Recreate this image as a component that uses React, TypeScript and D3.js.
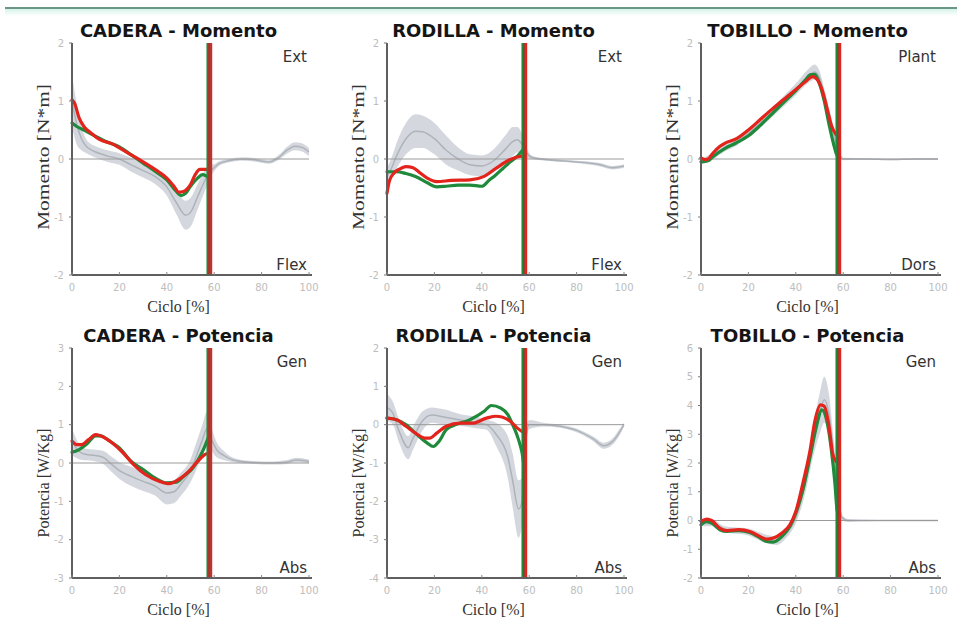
import React from 'react';
import * as d3 from 'd3';

// [ciclo %, valor]  /  [ciclo %, media, desviación]
type Pt = [number, number];
type NormPt = [number, number, number];

const PCT_TICKS = [0, 20, 40, 60, 80, 100];
const TOE_OFF = 58;

// ---- CADERA - Momento
const hipMomentNorm: NormPt[] = [
  [0, 1.0, 0.45], [2, 0.6, 0.35], [4, 0.35, 0.2], [6, 0.22, 0.12], [8, 0.16, 0.1], [10, 0.12, 0.1],
  [15, 0.05, 0.1], [20, 0.0, 0.1], [25, -0.1, 0.12], [30, -0.2, 0.12], [35, -0.3, 0.13], [40, -0.48, 0.15],
  [44, -0.75, 0.2], [48, -0.97, 0.25], [50, -0.92, 0.25], [53, -0.65, 0.22], [56, -0.38, 0.18],
  [58, -0.22, 0.12], [60, -0.15, 0.06], [62, -0.08, 0.04], [66, -0.03, 0.03], [72, 0.0, 0.03],
  [78, -0.02, 0.03], [83, -0.05, 0.03], [87, 0.02, 0.04], [91, 0.16, 0.06], [94, 0.22, 0.07],
  [97, 0.2, 0.07], [100, 0.12, 0.07],
];
const hipMomentGreen: Pt[] = [
  [0, 0.62], [2, 0.56], [5, 0.5], [10, 0.39], [15, 0.29], [20, 0.21], [25, 0.07], [30, -0.07],
  [35, -0.21], [40, -0.36], [44, -0.56], [46, -0.63], [48, -0.59], [50, -0.47], [53, -0.33],
  [55, -0.27], [57, -0.3], [58, -0.32],
];
const hipMomentRed: Pt[] = [
  [0, 1.02], [1, 0.97], [3, 0.71], [5, 0.56], [8, 0.45], [12, 0.33], [17, 0.26], [20, 0.19],
  [25, 0.07], [30, -0.05], [35, -0.18], [40, -0.33], [43, -0.47], [45, -0.57], [47, -0.56],
  [50, -0.44], [52, -0.27], [54, -0.18], [57, -0.18], [58, -0.2],
];

// ---- RODILLA - Momento
const kneeMomentNorm: NormPt[] = [
  [0, -0.3, 0.15], [2, -0.15, 0.18], [4, 0.05, 0.22], [8, 0.35, 0.27], [12, 0.48, 0.29], [15, 0.47, 0.28],
  [20, 0.35, 0.27], [25, 0.15, 0.25], [30, 0.0, 0.2], [35, -0.1, 0.18], [40, -0.12, 0.18], [45, -0.03, 0.2],
  [50, 0.17, 0.24], [53, 0.3, 0.25], [55, 0.33, 0.22], [57, 0.25, 0.18], [59, 0.1, 0.08], [61, 0.03, 0.03],
  [65, 0.0, 0.02], [70, -0.02, 0.02], [80, -0.05, 0.02], [90, -0.1, 0.03], [95, -0.15, 0.03], [100, -0.12, 0.03],
];
const kneeMomentGreen: Pt[] = [
  [0, -0.22], [4, -0.22], [8, -0.25], [12, -0.3], [17, -0.41], [21, -0.48], [25, -0.47], [30, -0.45],
  [35, -0.45], [40, -0.47], [43, -0.37], [46, -0.27], [49, -0.16], [52, -0.05], [55, 0.05], [58, 0.19],
];
const kneeMomentRed: Pt[] = [
  [0, -0.59], [1, -0.38], [3, -0.24], [5, -0.18], [8, -0.13], [11, -0.15], [14, -0.24], [17, -0.33],
  [21, -0.39], [27, -0.37], [35, -0.36], [41, -0.3], [46, -0.16], [52, -0.01], [57, 0.05], [58, 0.05],
];

// ---- TOBILLO - Momento
const ankleMomentNorm: NormPt[] = [
  [0, -0.05, 0.05], [5, 0.05, 0.06], [10, 0.2, 0.07], [15, 0.3, 0.07], [20, 0.44, 0.07], [25, 0.62, 0.08],
  [30, 0.8, 0.08], [35, 1.0, 0.09], [40, 1.2, 0.1], [45, 1.42, 0.12], [48, 1.5, 0.13], [50, 1.4, 0.12],
  [52, 1.12, 0.1], [55, 0.62, 0.1], [58, 0.12, 0.06], [60, 0.0, 0.02], [70, 0.0, 0.01], [80, -0.01, 0.01],
  [90, 0.0, 0.01], [100, 0.0, 0.01],
];
const ankleMomentGreen: Pt[] = [
  [0, -0.05], [3, -0.03], [5, 0.04], [10, 0.18], [15, 0.28], [20, 0.4], [25, 0.58], [30, 0.78],
  [35, 0.98], [40, 1.18], [44, 1.36], [46, 1.45], [48, 1.46], [50, 1.3], [52, 1.0], [54, 0.6],
  [56, 0.25], [57, 0.1], [58, 0.02],
];
const ankleMomentRed: Pt[] = [
  [0, 0.02], [2, -0.01], [3, 0.0], [5, 0.1], [8, 0.22], [10, 0.27], [15, 0.35], [20, 0.5], [25, 0.68],
  [30, 0.86], [35, 1.03], [40, 1.2], [44, 1.33], [46, 1.4], [47, 1.42], [49, 1.37], [51, 1.2],
  [53, 0.9], [55, 0.58], [57, 0.42], [58, 0.38],
];

// ---- CADERA - Potencia
const hipPowerNorm: NormPt[] = [
  [0, 0.55, 0.35], [3, 0.3, 0.2], [6, 0.22, 0.15], [9, 0.2, 0.15], [13, 0.15, 0.17], [17, -0.05, 0.2],
  [20, -0.2, 0.22], [25, -0.35, 0.25], [30, -0.48, 0.25], [35, -0.6, 0.25], [40, -0.78, 0.3],
  [43, -0.75, 0.3], [46, -0.55, 0.3], [50, -0.2, 0.3], [52, 0.1, 0.35], [55, 0.6, 0.4], [57, 0.9, 0.45],
  [59, 0.6, 0.3], [61, 0.35, 0.2], [64, 0.2, 0.12], [68, 0.08, 0.06], [75, 0.02, 0.04], [85, 0.0, 0.04],
  [90, 0.02, 0.05], [95, 0.08, 0.06], [100, 0.04, 0.05],
];
const hipPowerGreen: Pt[] = [
  [0, 0.28], [3, 0.35], [6, 0.48], [10, 0.71], [12, 0.71], [16, 0.57], [20, 0.39], [25, 0.04],
  [30, -0.17], [35, -0.39], [40, -0.52], [44, -0.5], [47, -0.35], [51, -0.13], [54, 0.17],
  [56, 0.43], [58, 0.74],
];
const hipPowerRed: Pt[] = [
  [0, 0.57], [2, 0.48], [4, 0.48], [7, 0.61], [10, 0.74], [12, 0.71], [17, 0.52], [21, 0.3],
  [26, -0.04], [31, -0.3], [37, -0.48], [41, -0.54], [45, -0.43], [50, -0.17], [53, 0.04],
  [56, 0.22], [58, 0.26],
];

// ---- RODILLA - Potencia
const kneePowerNorm: NormPt[] = [
  [0, 0.45, 0.35], [2.5, 0.3, 0.3], [5, -0.15, 0.3], [9, -0.6, 0.3], [11, -0.35, 0.3], [15, 0.1, 0.25],
  [19, 0.25, 0.2], [24, 0.2, 0.2], [31, 0.12, 0.15], [38, 0.05, 0.15], [42, 0.0, 0.13], [46, -0.25, 0.3],
  [51, -0.85, 0.55], [53, -1.45, 0.7], [55.5, -2.2, 0.75], [57, -2.0, 0.6], [58.3, -0.5, 0.35],
  [60, 0.0, 0.12], [66, 0.0, 0.05], [73, -0.04, 0.04], [80, -0.15, 0.05], [87, -0.37, 0.06],
  [91.5, -0.55, 0.08], [95, -0.45, 0.08], [98.6, -0.15, 0.08], [100, 0.0, 0.05],
];
const kneePowerGreen: Pt[] = [
  [0, 0.17], [4, 0.13], [8, 0.0], [12, -0.22], [17, -0.48], [19.5, -0.57], [22, -0.43], [25, -0.13],
  [29, 0.0], [35, 0.13], [41, 0.35], [44, 0.5], [48, 0.43], [51, 0.26], [53, 0.0], [55.5, -0.39],
  [57, -0.74], [58, -1.17],
];
const kneePowerRed: Pt[] = [
  [0, 0.17], [4, 0.13], [8, -0.04], [12, -0.22], [16, -0.35], [18, -0.35], [21, -0.22], [25, -0.04],
  [31, 0.04], [36, 0.04], [42, 0.17], [46, 0.22], [48.5, 0.2], [52, 0.09], [55, -0.09], [58, -0.22],
];

// ---- TOBILLO - Potencia
const anklePowerNorm: NormPt[] = [
  [0, -0.1, 0.1], [5, -0.1, 0.1], [10, -0.3, 0.1], [20, -0.4, 0.12], [28, -0.65, 0.15], [32, -0.7, 0.15],
  [36, -0.45, 0.15], [40, 0.1, 0.2], [44, 1.3, 0.35], [47, 2.6, 0.5], [50, 3.7, 0.7], [52, 4.2, 0.8],
  [54, 3.7, 0.7], [56, 2.3, 0.5], [58, 0.7, 0.3], [59.5, 0.1, 0.1], [62, 0.0, 0.05], [70, 0.0, 0.03],
  [80, 0.0, 0.02], [100, 0.0, 0.02],
];
const anklePowerGreen: Pt[] = [
  [0, -0.15], [2.4, -0.03], [4.5, -0.09], [8, -0.32], [11, -0.38], [16, -0.35], [20.6, -0.42],
  [25, -0.61], [27.7, -0.73], [30.5, -0.75], [34, -0.56], [37.5, -0.21], [40, 0.26], [43, 1.07],
  [46, 2.2], [48.7, 3.27], [51, 3.85], [53, 3.5], [55, 2.46], [56.5, 1.3], [57.4, 0.37], [58, 0.2],
];
const anklePowerRed: Pt[] = [
  [0, -0.03], [2.4, 0.05], [4.5, 0.0], [8, -0.27], [11, -0.35], [16, -0.32], [20.6, -0.38],
  [25, -0.56], [27.7, -0.65], [30.5, -0.61], [34, -0.44], [37.5, -0.15], [40, 0.31], [43, 1.3],
  [46, 2.43], [48, 3.44], [50.5, 4.02], [52, 3.97], [54, 3.27], [55.5, 2.34], [57, 2.05], [58, 1.99],
];

const TITLES = [
  'CADERA - Momento', 'RODILLA - Momento', 'TOBILLO - Momento',
  'CADERA - Potencia', 'RODILLA - Potencia', 'TOBILLO - Potencia',
];
const Y_LABELS = ['Momento [N*m]', 'Potencia [W/Kg]'];
const TOP_TAGS = ['Ext', 'Ext', 'Plant', 'Gen', 'Gen', 'Gen'];
const BOTTOM_TAGS = ['Flex', 'Flex', 'Dors', 'Abs', 'Abs', 'Abs'];
const Y_DOMAINS: [number, number][] = [[-2, 2], [-2, 2], [-2, 2], [-3, 3], [-4, 2], [-2, 6]];
const NORMS = [hipMomentNorm, kneeMomentNorm, ankleMomentNorm, hipPowerNorm, kneePowerNorm, anklePowerNorm];
const GREENS = [hipMomentGreen, kneeMomentGreen, ankleMomentGreen, hipPowerGreen, kneePowerGreen, anklePowerGreen];
const REDS = [hipMomentRed, kneeMomentRed, ankleMomentRed, hipPowerRed, kneePowerRed, anklePowerRed];

const COL_X = [72, 387, 701];
const ROW_Y = [43, 348];
const ROW_H = [232, 230];
const ROW_LABEL_CY = [157, 483];
const PLOT_W = 237;

const GREEN = '#1f8a3b';
const RED = '#e3241d';

interface PanelProps {
  idx: number,
}

const Panel: React.FC<PanelProps> = ({idx}: PanelProps) => {
  const row = Math.floor(idx / 3);
  const x0 = COL_X[idx % 3];
  const y0 = ROW_Y[row];
  const h = ROW_H[row];
  const x = d3.scaleLinear().domain([0, 100]).range([x0, x0 + PLOT_W]);
  const y = d3.scaleLinear().domain(Y_DOMAINS[idx]).range([y0 + h, y0]);
  const yTicks = d3.range(Y_DOMAINS[idx][0], Y_DOMAINS[idx][1] + 1);

  const band = d3.area<NormPt>()
      .x(d => x(d[0]))
      .y0(d => y(d[1] - d[2]))
      .y1(d => y(d[1] + d[2]))
      .curve(d3.curveMonotoneX);
  const mean = d3.line<NormPt>().x(d => x(d[0])).y(d => y(d[1])).curve(d3.curveMonotoneX);
  const curve = d3.line<Pt>().x(d => x(d[0])).y(d => y(d[1])).curve(d3.curveMonotoneX);
  const xm = x(TOE_OFF);
  const cx = x0 + PLOT_W / 2 - 12;
  const momento = row === 0;

  return (
      <g>
        <text x={cx} y={y0 - 6} textAnchor="middle" fontFamily="DejaVu Sans" fontWeight="bold"
              fontSize={18} fill="#151515">{TITLES[idx]}</text>

        {/* norma */}
        <path d={band(NORMS[idx]) || ''} fill="#cdd1d8" opacity={0.85}/>
        <path d={mean(NORMS[idx]) || ''} fill="none" stroke="#aeb3ba" strokeWidth={1.5}/>
        <line x1={x(0)} x2={x(100)} y1={y(0)} y2={y(0)} stroke="#9a9a9a" strokeWidth={1}/>

        {/* sujeto */}
        <path d={curve(GREENS[idx]) || ''} fill="none" stroke={GREEN} strokeWidth={3.2}
              strokeLinejoin="round" strokeLinecap="round"/>
        <path d={curve(REDS[idx]) || ''} fill="none" stroke={RED} strokeWidth={3.2}
              strokeLinejoin="round" strokeLinecap="round"/>

        {/* despegue */}
        <line x1={xm - 2} x2={xm - 2} y1={y0} y2={y0 + h} stroke={GREEN} strokeWidth={2}/>
        <line x1={xm} x2={xm} y1={y0} y2={y0 + h} stroke="#a4392b" strokeWidth={3}/>
        <line x1={xm + 2} x2={xm + 2} y1={y0} y2={y0 + h} stroke={RED} strokeWidth={1.5}/>

        {/* ejes */}
        <line x1={x0} x2={x0} y1={y0} y2={y0 + h} stroke="#5f5f5f" strokeWidth={2}/>
        <line x1={x0} x2={x0 + PLOT_W + 3} y1={y0 + h} y2={y0 + h} stroke="#5f5f5f" strokeWidth={2}/>
        {yTicks.map(t => (
            <g key={`y${t}`}>
              <line x1={x0 - 3} x2={x0} y1={y(t)} y2={y(t)} stroke="#777" strokeWidth={1}/>
              <text x={x0 - 8} y={y(t)} dy="0.35em" textAnchor="end" fontFamily="DejaVu Sans"
                    fontSize={10} fill="#bdbdbd">{t}</text>
            </g>
        ))}
        {PCT_TICKS.map(t => (
            <g key={`x${t}`}>
              <line x1={x(t)} x2={x(t)} y1={y0 + h} y2={y0 + h - 3} stroke="#888" strokeWidth={1}/>
              <text x={x(t)} y={y0 + h + 16} textAnchor="middle" fontFamily="DejaVu Sans"
                    fontSize={10} fill="#bdbdbd">{t}</text>
            </g>
        ))}

        <text x={x0 + PLOT_W - 2} y={y0 + 19} textAnchor="end" fontFamily="DejaVu Sans"
              fontSize={15} fill="#333">{TOP_TAGS[idx]}</text>
        <text x={x0 + PLOT_W - 2} y={y0 + h - 5} textAnchor="end" fontFamily="DejaVu Sans"
              fontSize={15} fill="#333">{BOTTOM_TAGS[idx]}</text>

        <text x={cx} y={y0 + h + 37} textAnchor="middle" fontFamily="Liberation Serif"
              fontSize={16} fill="#333">Ciclo [%]</text>
        <text transform={`translate(${x0 - 23}, ${ROW_LABEL_CY[row]}) rotate(-90)`} textAnchor="middle"
              fontFamily="Liberation Serif" fontSize={16} fill="#333"
              textLength={momento ? 146 : undefined}
              lengthAdjust={momento ? 'spacingAndGlyphs' : undefined}>{Y_LABELS[row]}</text>
      </g>
  );
};

export default function App() {
  return (
      <svg width={957} height={621} style={{position: 'absolute', left: 0, top: 0, background: '#fff'}}>
        <defs>
          <linearGradient id="topglow" x1="0" y1="0" x2="0" y2="1">
            <stop offset="0%" stopColor="#d6f3ea"/>
            <stop offset="100%" stopColor="#ffffff"/>
          </linearGradient>
        </defs>
        <rect x={5} y={9} width={952} height={7} fill="url(#topglow)"/>
        <rect x={5} y={7} width={952} height={2} fill="#6b9683"/>
        {TITLES.map((_, i) => <Panel key={i} idx={i}/>)}
      </svg>
  );
}
